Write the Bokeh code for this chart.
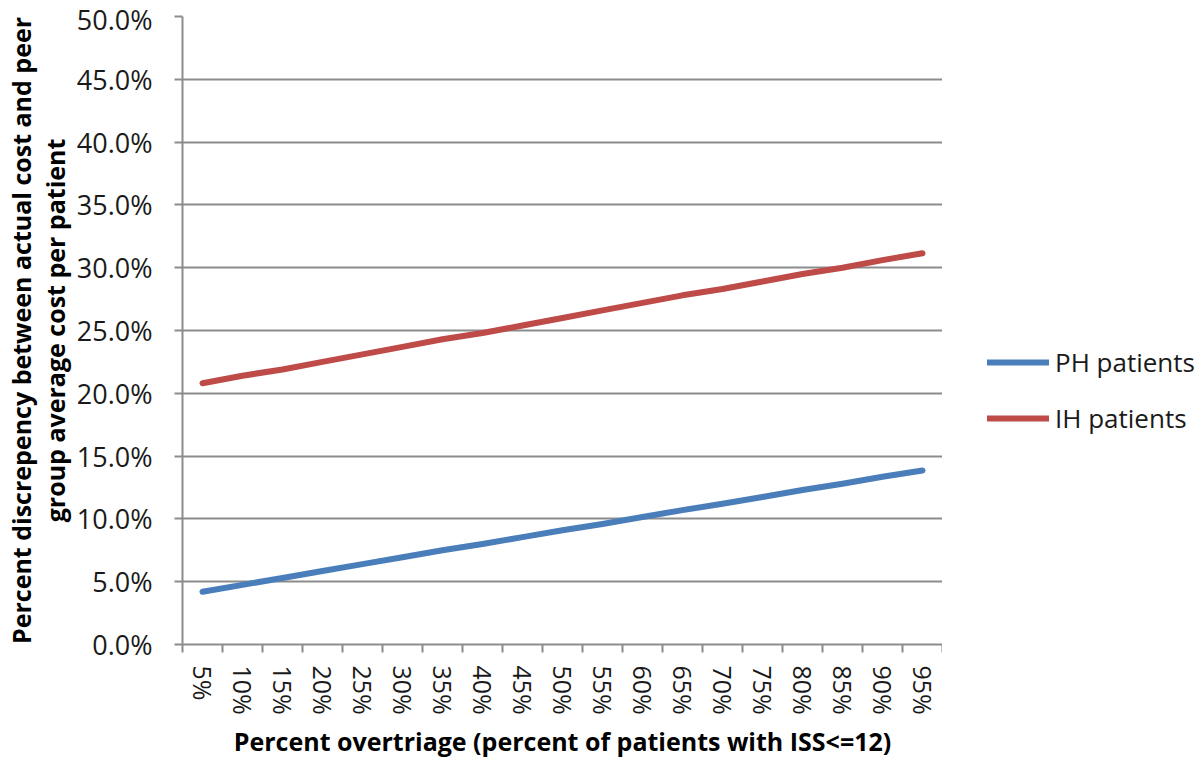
from bokeh.plotting import figure
from bokeh.layouts import row
from bokeh.models import (Range1d, FixedTicker, PrintfTickFormatter, Legend,
                          LegendItem, ColumnDataSource)
from bokeh.embed import file_html
from bokeh.resources import INLINE

categories = ["5%", "10%", "15%", "20%", "25%", "30%", "35%", "40%", "45%", "50%",
              "55%", "60%", "65%", "70%", "75%", "80%", "85%", "90%", "95%"]
ph_values = [4.2, 4.75, 5.3, 5.85, 6.4, 6.95, 7.5, 8.0, 8.55, 9.1,
             9.6, 10.15, 10.7, 11.2, 11.75, 12.3, 12.8, 13.35, 13.85]
ih_values = [20.8, 21.4, 21.9, 22.5, 23.1, 23.7, 24.3, 24.8, 25.4, 26.0,
             26.6, 27.2, 27.8, 28.3, 28.9, 29.5, 30.0, 30.6, 31.15]
y_ticks = [0, 5, 10, 15, 20, 25, 30, 35, 40, 45, 50]
series_names = ["PH patients", "IH patients"]
series_colors = ["#4A7EBB", "#BE4B48"]

n = len(categories)
xc = [i + 0.5 for i in range(n)]
src = ColumnDataSource(dict(x=xc, ph=ph_values, ih=ih_values))

GRAY = "#8c8c8c"

p = figure(frame_width=760, frame_height=628, output_backend="svg",
           toolbar_location=None,
           x_range=Range1d(0, n), y_range=Range1d(0, 50),
           min_border_left=182, min_border_right=0, min_border_top=16,
           min_border_bottom=117)
p.outline_line_color = None
p.background_fill_color = "white"

# grid
p.xgrid.visible = False
p.ygrid.ticker = FixedTicker(ticks=y_ticks)
p.ygrid.grid_line_color = GRAY
p.ygrid.grid_line_width = 2

# y axis
ya = p.yaxis[0]
ya.ticker = FixedTicker(ticks=y_ticks)
ya.formatter = PrintfTickFormatter(format="%.1f%%")
ya.axis_line_color = GRAY
ya.axis_line_width = 2
ya.major_tick_line_color = GRAY
ya.major_tick_line_width = 2
ya.major_tick_out = 8
ya.major_tick_in = 0
ya.minor_tick_line_color = None
ya.minor_tick_out = 0
ya.minor_tick_in = 0
ya.major_label_standoff = 22
ya.major_label_text_font = "Open Sans"
ya.major_label_text_font_size = "27px"
ya.major_label_text_color = "#1a1a1a"
ya.axis_label = "Percent discrepency between actual cost and peer\ngroup average cost per patient"
ya.axis_label_text_font = "Open Sans"
ya.axis_label_text_font_style = "bold"
ya.axis_label_text_font_size = "25px"
ya.axis_label_text_color = "#000000"
ya.axis_label_text_line_height = 1.0
ya.axis_label_standoff = 2

# x axis
xa = p.xaxis[0]
xa.ticker = FixedTicker(ticks=xc, minor_ticks=list(range(n + 1)))
xa.major_label_overrides = {c: lab for c, lab in zip(xc, categories)}
xa.major_label_orientation = "vertical"
xa.axis_line_color = GRAY
xa.axis_line_width = 2
xa.major_tick_line_color = None
xa.major_tick_out = 0
xa.major_tick_in = 0
xa.minor_tick_line_color = GRAY
xa.minor_tick_line_width = 2
xa.minor_tick_out = 8
xa.minor_tick_in = 0
xa.major_label_standoff = 13
xa.major_label_text_font = "Open Sans"
xa.major_label_text_font_size = "25px"
xa.major_label_text_color = "#1a1a1a"
xa.axis_label = "Percent overtriage (percent of patients with ISS<=12)"
xa.axis_label_text_font = "Open Sans"
xa.axis_label_text_font_style = "bold"
xa.axis_label_text_font_size = "25px"
xa.axis_label_text_color = "#000000"
xa.axis_label_standoff = 6

p.line("x", "ph", source=src, line_color=series_colors[0], line_width=6,
       line_cap="round", line_join="round")
p.line("x", "ih", source=src, line_color=series_colors[1], line_width=6,
       line_cap="round", line_join="round")

# legend panel to the right of the plot area
p2 = figure(width=258, height=761, output_backend="svg", toolbar_location=None,
            x_range=Range1d(-100, -99), y_range=Range1d(-100, -99),
            min_border=0)
p2.axis.visible = False
p2.grid.visible = False
p2.outline_line_color = None
l1 = p2.line("x", "ph", source=src, line_color=series_colors[0], line_width=6,
             line_cap="round")
l2 = p2.line("x", "ih", source=src, line_color=series_colors[1], line_width=6,
             line_cap="round")

legend = Legend(items=[LegendItem(label=series_names[0], renderers=[l1]),
                       LegendItem(label=series_names[1], renderers=[l2])],
                location=(45, 208))
legend.border_line_color = None
legend.background_fill_alpha = 0
legend.glyph_width = 62
legend.glyph_height = 30
legend.label_height = 30
legend.spacing = 20
legend.label_standoff = 6
legend.padding = 10
legend.margin = 0
legend.label_text_font = "Open Sans"
legend.label_text_font_size = "26px"
legend.label_text_color = "#1a1a1a"
p2.add_layout(legend)

open("out.html", "w").write(file_html(row(p, p2), INLINE))
